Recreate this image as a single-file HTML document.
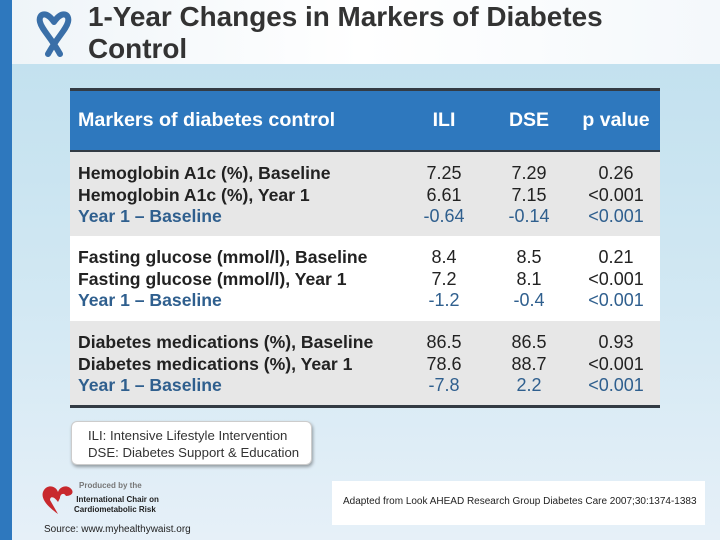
<!DOCTYPE html>
<html><head><meta charset="utf-8">
<style>
*{margin:0;padding:0;box-sizing:border-box}
body{width:720px;height:540px;position:relative;overflow:hidden;font-family:"Liberation Sans",Arial,sans-serif;background:linear-gradient(#c3e1ef 64px,#d2e8f3 300px,#e6f0f8 540px)}
.abs{position:absolute}
#hdr{left:0;top:0;width:720px;height:64px;background:linear-gradient(90deg,#eef4f8,#ffffff 50%,#f4f8fb)}
#bar{left:0;top:0;width:12px;height:540px;background:#2e78be}
#title{left:88px;top:1px;font-size:27.9px;font-weight:bold;color:#333;line-height:32px;white-space:nowrap}
#tbl{left:70px;top:88px;width:590px;height:320px}
.row{position:absolute;left:0;width:590px;font-size:18px;color:#222;line-height:21.5px}
.lab{position:absolute;left:8px;top:11px;font-weight:bold;font-size:17.6px;white-space:nowrap}
.c{position:absolute;top:11px;width:90px;text-align:center}
.b{color:#2f5f8e}
</style></head><body>
<div id="hdr" class="abs"></div>
<div id="bar" class="abs"></div>
<svg class="abs" style="left:36px;top:6px" width="36" height="52">
<path d="M18 16 C10 4,2 8,4 16 C6 24,14 30,24 48 M18 16 C26 4,34 8,32 16 C30 24,22 30,12 48" fill="none" stroke="#3a6fa8" stroke-width="6" stroke-linecap="round"/>
</svg>
<div id="title" class="abs">1-Year Changes in Markers of Diabetes<br>Control</div>
<div id="tbl" class="abs">
 <div class="abs" style="left:0;top:0;width:590px;height:3px;background:#333b44"></div>
 <div class="row" style="top:3px;height:59px;background:#2e78be;color:#fff;font-size:19.5px;font-weight:bold">
  <div class="lab" style="top:19px;font-size:19.7px">Markers of diabetes control</div>
  <div class="c" style="left:329px;top:19px">ILI</div>
  <div class="c" style="left:414px;top:19px">DSE</div>
  <div class="c" style="left:501px;top:19px">p value</div>
 </div>
 <div class="abs" style="left:0;top:62px;width:590px;height:2px;background:#333b44"></div>
 <div class="row" style="top:64px;height:84px;background:#e7e7e7">
  <div class="lab">Hemoglobin A1c (%), Baseline<br>Hemoglobin A1c (%), Year 1<br><span class="b">Year 1 – Baseline</span></div>
  <div class="c" style="left:329px">7.25<br>6.61<br><span class="b">-0.64</span></div>
  <div class="c" style="left:414px">7.29<br>7.15<br><span class="b">-0.14</span></div>
  <div class="c" style="left:501px">0.26<br>&lt;0.001<br><span class="b">&lt;0.001</span></div>
 </div>
 <div class="row" style="top:148px;height:85px;background:#ffffff">
  <div class="lab">Fasting glucose (mmol/l), Baseline<br>Fasting glucose (mmol/l), Year 1<br><span class="b">Year 1 – Baseline</span></div>
  <div class="c" style="left:329px">8.4<br>7.2<br><span class="b">-1.2</span></div>
  <div class="c" style="left:414px">8.5<br>8.1<br><span class="b">-0.4</span></div>
  <div class="c" style="left:501px">0.21<br>&lt;0.001<br><span class="b">&lt;0.001</span></div>
 </div>
 <div class="row" style="top:233px;height:84px;background:#e7e7e7">
  <div class="lab">Diabetes medications (%), Baseline<br>Diabetes medications (%), Year 1<br><span class="b">Year 1 – Baseline</span></div>
  <div class="c" style="left:329px">86.5<br>78.6<br><span class="b">-7.8</span></div>
  <div class="c" style="left:414px">86.5<br>88.7<br><span class="b">2.2</span></div>
  <div class="c" style="left:501px">0.93<br>&lt;0.001<br><span class="b">&lt;0.001</span></div>
 </div>
 <div class="abs" style="left:0;top:317px;width:590px;height:3px;background:#333b44"></div>
</div>
<div class="abs" style="left:71px;top:421px;width:241px;height:44px;background:#fff;border:1px solid #ccc;border-radius:6px;box-shadow:1px 2px 3px rgba(0,0,0,.35);font-size:13.2px;color:#333;line-height:17px;padding:5px 0 0 16px;white-space:nowrap">ILI: Intensive Lifestyle Intervention<br>DSE: Diabetes Support &amp; Education</div>
<div class="abs" style="left:332px;top:481px;width:373px;height:44px;background:#fff;font-size:10px;color:#222;padding-top:15px;padding-left:11px;white-space:nowrap">Adapted from Look AHEAD Research Group Diabetes Care 2007;30:1374-1383</div>
<svg class="abs" style="left:38px;top:482px" width="40" height="36">
<path d="M20 32 C6 22,2 14,6 8 C10 2,18 4,20 10 C22 4,30 2,34 8 C36 12,32 14,28 14 C26 10,22 12,22 16 L20 20 C16 14,12 14,12 18 Z" fill="#c8282d"/>
</svg>
<div class="abs" style="left:79px;top:481px;font-size:8px;color:#777;font-weight:bold">Produced by the</div>
<div class="abs" style="left:74px;top:495px;font-size:8px;color:#222;font-weight:bold;line-height:10px">&nbsp;International Chair on<br>Cardiometabolic Risk</div>
<div class="abs" style="left:44px;top:524px;font-size:10px;color:#222">Source: www.myhealthywaist.org</div>
</body></html>
